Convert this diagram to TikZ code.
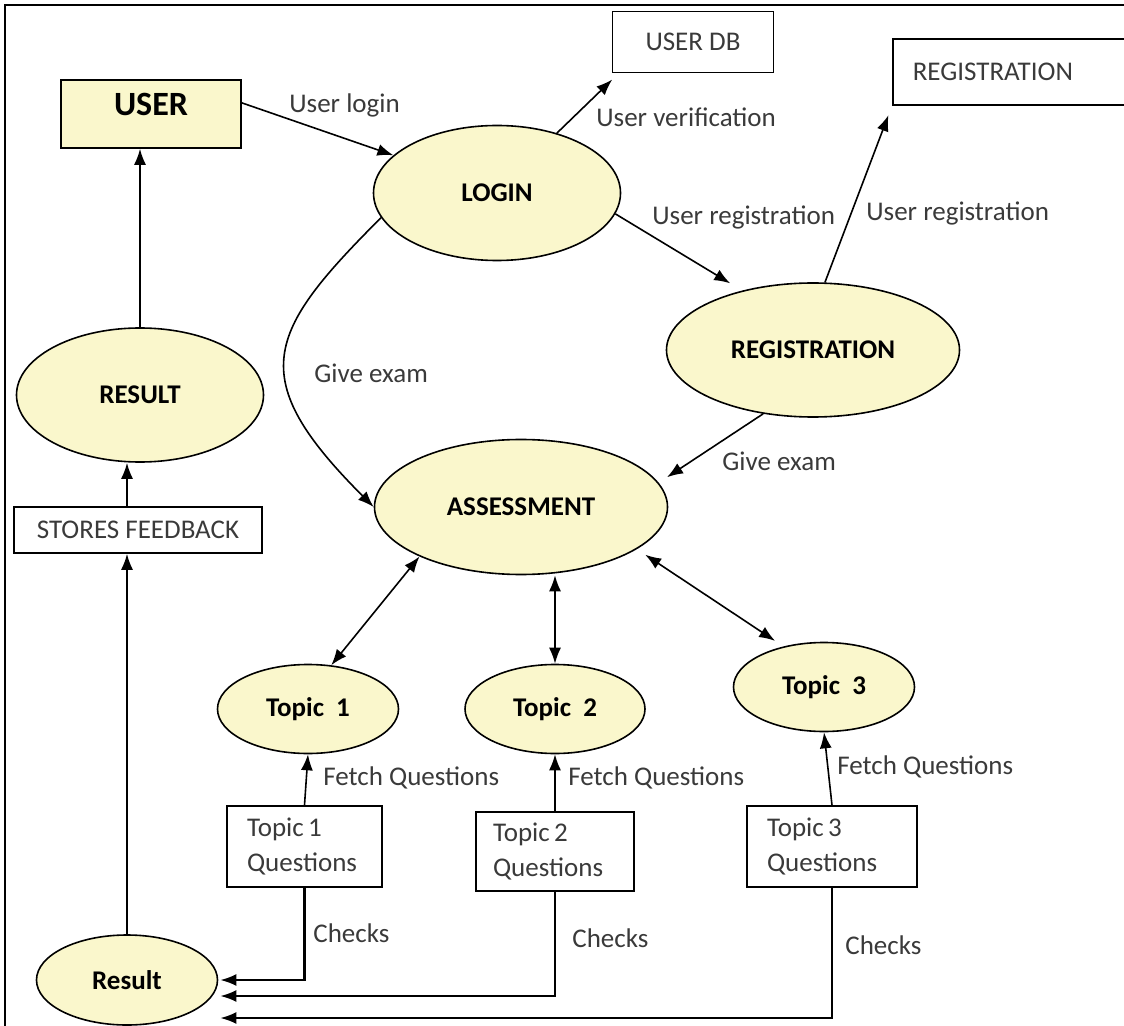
\documentclass[tikz,border=0pt]{standalone}
\usepackage{fontspec}
\setmainfont{Carlito}
\usetikzlibrary{shapes.geometric,arrows.meta}
\definecolor{procfill}{HTML}{FAF7CC}
\definecolor{labelgray}{HTML}{3A3A3A}

\begin{document}
\begin{tikzpicture}[x=0.5pt,y=-0.5pt,font=\fontsize{13.5pt}{17.5pt}\selectfont,>={Latex[length=8pt,width=6pt]}]
        \tikzstyle{proc}=[ellipse,draw,fill=procfill,line width=0.8pt,inner sep=0pt,font=\fontsize{13.5pt}{17.5pt}\selectfont\bfseries]
        \tikzstyle{store}=[rectangle,draw,line width=0.8pt,inner sep=0pt,text=labelgray]
        \tikzstyle{flow}=[->,line width=0.8pt]
        \tikzstyle{both}=[<->,line width=0.8pt]
        \tikzstyle{check}=[->,line width=1.1pt]
        \tikzstyle{lbl}=[inner sep=0pt,anchor=west,text=labelgray]
        \useasboundingbox (0,0) rectangle (1124,1026);
        \draw[line width=1pt] (5,5) rectangle (1160,1060);

        \node[store,fill=procfill,text=black,minimum width=90pt,text height=14pt,text depth=12pt,inner ysep=4pt,font=\fontsize{17pt}{20pt}\selectfont\bfseries] (user) at (151,114) {USER};
        \node[store,minimum width=80.5pt,minimum height=30.5pt] (userdb) at (693,42) {USER DB};
        \node[store,anchor=west,minimum height=33pt,text width=140pt,inner xsep=10pt,align=left] (regbox) at (892,72) {REGISTRATION};
        \node[store,minimum width=124pt,minimum height=23pt] (feedback) at (138,530) {STORES FEEDBACK};
        \node[store,minimum height=40.5pt,text width=57.5pt,inner xsep=10pt,align=left] (q1) at (304.5,846.5) {Topic\,1\\Questions};
        \node[store,minimum height=39.5pt,text width=62pt,inner xsep=8.5pt,align=left] (q2) at (555,851.5) {Topic\,2\\Questions};
        \node[store,minimum height=40.5pt,text width=65pt,inner xsep=10pt,align=left] (q3) at (832,846.5) {Topic\,3\\Questions};

        \node[proc,minimum width=123.5pt,minimum height=67.5pt] (login) at (497,193) {LOGIN};
        \node[proc,minimum width=146.5pt,minimum height=67pt] (regp) at (813,350) {REGISTRATION};
        \node[proc,minimum width=146.5pt,minimum height=67.5pt] (assess) at (521,507) {ASSESSMENT};
        \node[proc,minimum width=123.5pt,minimum height=67pt] (result) at (140,395) {RESULT};
        \node[proc,minimum width=90.5pt,minimum height=44.5pt] (topic1) at (308,709) {Topic~~1};
        \node[proc,minimum width=90pt,minimum height=44.5pt] (topic2) at (555,709) {Topic~~2};
        \node[proc,minimum width=90.5pt,minimum height=44.5pt] (topic3) at (824,687) {Topic~~3};
        \node[proc,minimum width=90.5pt,minimum height=45pt] (res) at (127,980) {Result};

        \draw[flow] (user.7) -- (login.160);
        \draw[flow,shorten >=4.5pt] (login.45) -- ([xshift=3.5pt]userdb.south west);
        \draw[flow,shorten >=7pt] (login.-10) -- (regp.140);
        \draw[flow,shorten >=5pt] (regp.80) -- (regbox.south west);
        \draw[flow,shorten >=5pt] (regp.232) -- (assess.10);
        \draw[flow] (login.192) .. controls +(-115,115) and +(-130,-130) .. (assess.west);
        \draw[both] (assess.206) -- (topic1.62);
        \draw[both] (topic2.north |- assess.south) -- (topic2.north);
        \draw[both,shorten <=5pt,shorten >=5pt] (assess.-20) -- (topic3.135);
        \draw[flow] (q1.north) -- (topic1.south);
        \draw[flow] (q2.north) -- (topic2.south);
        \draw[flow] (q3.north) -- (topic3.south);
        \draw[check] (q1.south) |- ([xshift=1pt]res.east);
        \draw[check] (q2.south) |- ([xshift=1pt,yshift=-8pt]res.east);
        \draw[check] (q3.south) |- ([xshift=1pt,yshift=-19pt]res.east);
        \draw[flow] (res.north) -- (res.north |- feedback.south);
        \draw[flow] (res.north |- feedback.north) -- (res.north |- result.south);
        \draw[flow] (result.north) -- (result.north |- user.south);

        \node[lbl] (tUserLogin) at (289,105) {User login};
        \node[lbl] (tVerify) at (596,117) {User verification};
        \node[lbl] (tRegIn) at (652,217) {User registration};
        \node[lbl] (tRegOut) at (866,213) {User registration};
        \node[lbl] (tExamLogin) at (314,373) {Give exam};
        \node[lbl] (tExamReg) at (722,461) {Give exam};
        \node[lbl] (tFetch1) at (323,778) {Fetch Questions};
        \node[lbl] (tFetch2) at (568,778) {Fetch Questions};
        \node[lbl] (tFetch3) at (837,767) {Fetch Questions};
        \node[lbl] (tCheck1) at (313,933) {Checks};
        \node[lbl] (tCheck2) at (572,938) {Checks};
        \node[lbl] (tCheck3) at (845,945) {Checks};
\end{tikzpicture}
\end{document}
